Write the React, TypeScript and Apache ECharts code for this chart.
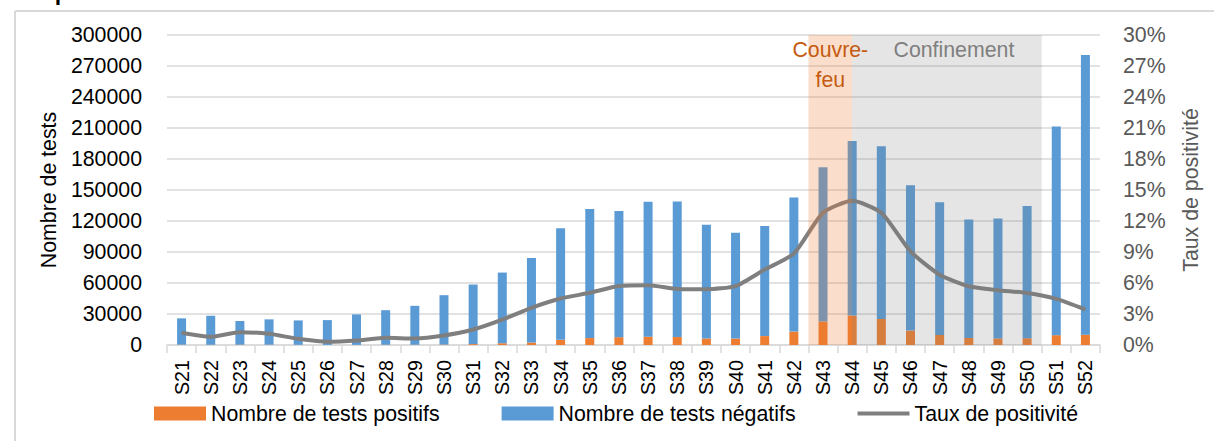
import React, { useEffect, useRef } from "react";
import * as echarts from "echarts";

const categories = [
  "S21", "S22", "S23", "S24", "S25", "S26", "S27", "S28", "S29", "S30", "S31",
  "S32", "S33", "S34", "S35", "S36", "S37", "S38", "S39", "S40", "S41", "S42",
  "S43", "S44", "S45", "S46", "S47", "S48", "S49", "S50", "S51", "S52",
];

const positiveTests = [
  300, 220, 290, 270, 140, 80, 130, 240, 240, 440, 880, 1700, 2400, 5000, 6700,
  7600, 8000, 7700, 6300, 6300, 8600, 13000, 22800, 28500, 25200, 14000, 9700,
  6800, 6400, 6600, 9500, 10000,
];

const negativeTests = [
  25500, 28080, 22910, 24530, 23660, 24020, 29470, 33460, 37660, 47760, 57620,
  68400, 81800, 107900, 124800, 122000, 130600, 131200, 110100, 102400, 106500,
  129800, 149200, 168900, 167100, 140600, 128500, 114700, 116100, 127800,
  202000, 270700,
];

const positivityRate = [
  1.18, 0.79, 1.24, 1.08, 0.6, 0.31, 0.43, 0.7, 0.63, 0.92, 1.5, 2.46, 3.6, 4.5,
  5.05, 5.7, 5.78, 5.43, 5.4, 5.7, 7.3, 8.84, 12.8, 13.95, 12.8, 9.06, 6.8, 5.68,
  5.3, 5.04, 4.46, 3.43,
];

const testsAxis = { min: 0, max: 300000, interval: 30000 };
const rateAxis = { min: 0, max: 30, interval: 3 };

const seriesNames = [
  "Nombre de tests positifs",
  "Nombre de tests négatifs",
  "Taux de positivité",
];

// Periods: curfew starts with S43 and runs to mid S44, lockdown from mid S44 through S50
const curfewStart = categories.indexOf("S43");
const curfewEnd = categories.indexOf("S44") + 0.5;
const lockdownEnd = categories.indexOf("S50") + 1;

function hasNarrow(): boolean {
  try {
    const ctx = document.createElement("canvas").getContext("2d");
    if (!ctx) return false;
    ctx.font = "40px monospace";
    const a = ctx.measureText("Nombre de tests").width;
    ctx.font = '40px "Liberation Sans Narrow", monospace';
    const b = ctx.measureText("Nombre de tests").width;
    return Math.abs(a - b) > 0.5;
  } catch (e) {
    return false;
  }
}

export default function App() {
  const ref = useRef<HTMLDivElement>(null);

  useEffect(() => {
    if (!ref.current) return;
    const narrow = hasNarrow();
    const family = narrow
      ? '"Liberation Sans Narrow", "Arial Narrow", sans-serif'
      : '"Liberation Sans", Arial, sans-serif';
    const k = narrow ? 1 : 0.82;
    const fs = 26 * k;
    const xfs = 24 * k;

    const chart = echarts.init(ref.current, null, { renderer: "svg" });
    chart.setOption({
      animation: false,
      backgroundColor: "#ffffff",
      textStyle: { fontFamily: family },
      graphic: [
        {
          type: "line",
          shape: { x1: 15, y1: 11, x2: 1214, y2: 11 },
          style: { stroke: "#d9d9d9", lineWidth: 2 },
          z: 0,
        },
        {
          type: "line",
          shape: { x1: 15, y1: 11, x2: 15, y2: 441 },
          style: { stroke: "#d9d9d9", lineWidth: 2 },
          z: 0,
        },
        {
          type: "text",
          left: 14,
          top: -20,
          style: {
            text: "hospitaliers",
            fontSize: 28 * k,
            fontWeight: "bold",
            fontFamily: family,
            fill: "#000",
          },
        },
      ],
      grid: {
        left: 167,
        right: 114,
        top: 35,
        bottom: 96,
        outerBoundsMode: "none",
        containLabel: false,
      },
      legend: {
        data: [
          { name: seriesNames[0], icon: "rect" },
          { name: seriesNames[1], icon: "rect" },
          { name: seriesNames[2], icon: "path://M0,0H52V4H0Z" },
        ],
        left: 154,
        top: 403,
        padding: 0,
        itemWidth: 52,
        itemHeight: 14,
        itemGap: 62,
        textStyle: { fontSize: fs, color: "#000", fontFamily: family },
      },
      xAxis: [
        {
          type: "category",
          data: categories,
          boundaryGap: true,
          axisLine: { show: true, lineStyle: { color: "#d9d9d9", width: 1.5 } },
          axisTick: {
            show: true,
            length: 8,
            lineStyle: { color: "#d9d9d9", width: 1.5 },
          },
          axisLabel: {
            rotate: 90,
            interval: 0,
            margin: 15,
            fontSize: xfs,
            color: "#000",
            fontFamily: family,
          },
          splitLine: { show: false },
        },
        {
          type: "value",
          min: 0,
          max: categories.length,
          show: false,
        },
      ],
      yAxis: [
        {
          type: "value",
          min: testsAxis.min,
          max: testsAxis.max,
          interval: testsAxis.interval,
          name: "Nombre de tests",
          nameLocation: "middle",
          nameRotate: 90,
          nameGap: 106,
          nameTextStyle: { fontSize: fs, color: "#000", fontFamily: family },
          axisLine: { show: false },
          axisTick: { show: false },
          axisLabel: {
            margin: 25,
            fontSize: fs,
            color: "#000",
            fontFamily: family,
            formatter: (v: number) => String(v),
          },
          splitLine: { lineStyle: { color: "#d9d9d9", width: 1.5 } },
        },
        {
          type: "value",
          position: "right",
          min: rateAxis.min,
          max: rateAxis.max,
          interval: rateAxis.interval,
          name: "Taux de positivité",
          nameLocation: "middle",
          nameRotate: 90,
          nameGap: 80,
          nameTextStyle: { fontSize: fs, color: "#595959", fontFamily: family },
          axisLine: { show: false },
          axisTick: { show: false },
          axisLabel: {
            margin: 23,
            fontSize: fs,
            color: "#595959",
            fontFamily: family,
            formatter: "{value}%",
          },
          splitLine: { show: false },
        },
      ],
      series: [
        {
          name: seriesNames[0],
          type: "bar",
          stack: "tests",
          data: positiveTests,
          barWidth: 9,
          itemStyle: { color: "#ED7D31" },
          z: 2,
        },
        {
          name: seriesNames[1],
          type: "bar",
          stack: "tests",
          data: negativeTests,
          barWidth: 9,
          itemStyle: { color: "#5B9BD5" },
          z: 2,
        },
        {
          name: seriesNames[2],
          type: "line",
          yAxisIndex: 1,
          data: positivityRate,
          smooth: 0.2,
          symbol: "none",
          lineStyle: { color: "#7F7F7F", width: 4 },
          itemStyle: { color: "#7F7F7F" },
          z: 3,
        },
        {
          name: "periods",
          type: "line",
          xAxisIndex: 1,
          yAxisIndex: 0,
          data: [],
          z: 5,
          silent: true,
          markArea: {
            silent: true,
            z: 5,
            data: [
              [
                {
                  name: "Couvre-\nfeu",
                  xAxis: curfewStart,
                  itemStyle: { color: "rgba(237,125,49,0.25)" },
                  label: {
                    show: true,
                    position: "insideTop",
                    distance: 0,
                    color: "#C55A11",
                    fontSize: fs,
                    lineHeight: 30,
                    fontFamily: family,
                  },
                },
                { xAxis: curfewEnd },
              ],
              [
                {
                  name: "Confinement",
                  xAxis: curfewEnd,
                  itemStyle: { color: "rgba(127,127,127,0.2)" },
                  label: {
                    show: true,
                    position: "insideTop",
                    distance: 0,
                    offset: [7, 0],
                    color: "#7F7F7F",
                    fontSize: fs,
                    lineHeight: 30,
                    fontFamily: family,
                  },
                },
                { xAxis: lockdownEnd },
              ],
            ],
          },
        },
      ],
    });
    return () => chart.dispose();
  }, []);

  return (
    <div
      ref={ref}
      style={{
        position: "fixed",
        left: 0,
        top: 0,
        width: 1214,
        height: 441,
        background: "#fff",
      }}
    />
  );
}
